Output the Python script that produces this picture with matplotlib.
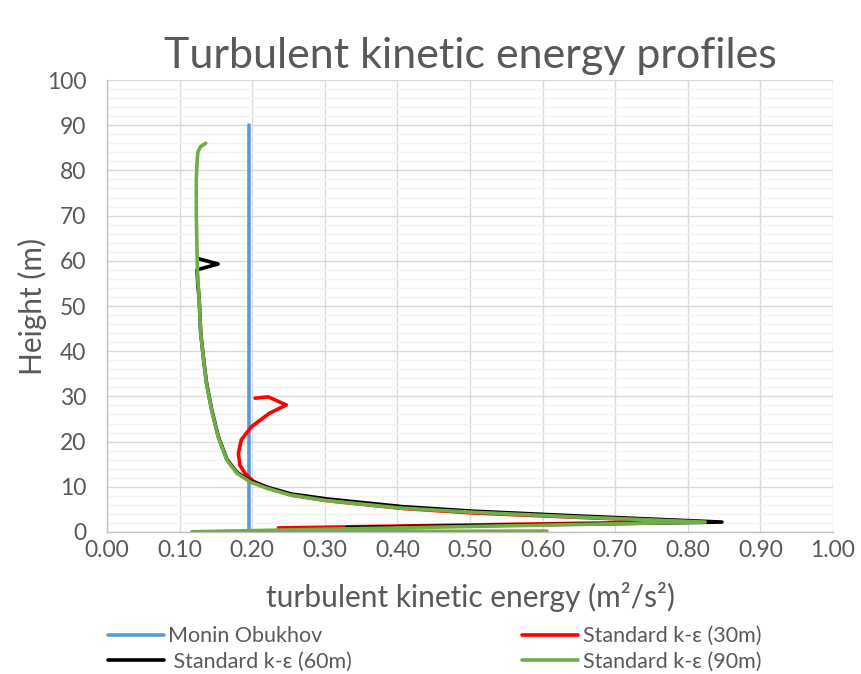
import matplotlib
matplotlib.use("Agg")
import matplotlib.pyplot as plt
from matplotlib.ticker import MultipleLocator, FormatStrFormatter

plt.rcParams['font.family'] = ['Lato', 'DejaVu Sans']

# ---- data ----
mo_x = [0.196, 0.196]
mo_y = [0.0, 90.0]

red_x = [0.236, 0.800, 0.655, 0.505, 0.408, 0.305, 0.256, 0.224, 0.201, 0.190, 0.183, 0.181, 0.185, 0.199, 0.224, 0.247, 0.222, 0.204]
red_y = [0.9, 2.3, 3.2, 4.2, 5.2, 6.9, 8.1, 9.6, 11.3, 13.0, 14.8, 17.4, 20.4, 23.3, 26.3, 28.1, 29.9, 29.6]

blk_x = [0.330, 0.847, 0.655, 0.505, 0.408, 0.304, 0.254, 0.221, 0.197, 0.179, 0.165, 0.153, 0.144, 0.137, 0.133, 0.129, 0.127, 0.125, 0.124, 0.153, 0.125]
blk_y = [1.0, 2.2, 3.5, 4.6, 5.6, 7.3, 8.4, 9.9, 11.3, 13.2, 16.1, 21.3, 27.2, 33.1, 38.3, 44.2, 51.5, 55.0, 58.0, 59.3, 60.5]

grn_x = [0.606, 0.117, 0.824, 0.650, 0.500, 0.404, 0.300, 0.252, 0.220, 0.197, 0.179, 0.165, 0.153, 0.144, 0.137, 0.133, 0.129, 0.127, 0.125, 0.124, 0.123, 0.123, 0.124, 0.125, 0.129, 0.136]
grn_y = [0.2, 0.05, 2.2, 3.3, 4.4, 5.3, 7.0, 8.2, 9.7, 11.1, 13.0, 15.9, 21.1, 27.0, 32.9, 38.1, 44.0, 51.3, 56.0, 62.0, 70.0, 78.0, 81.6, 84.0, 85.3, 86.0]

x_ticks = [0.0, 0.1, 0.2, 0.3, 0.4, 0.5, 0.6, 0.7, 0.8, 0.9, 1.0]
y_ticks = [0, 10, 20, 30, 40, 50, 60, 70, 80, 90, 100]

# ---- figure ----
fig = plt.figure(figsize=(8.61, 6.74), dpi=100)
ax = fig.add_axes([107/861, 1-532/674, (833-107)/861, (532-80)/674])

txt = '#595959'
lw = 2.6
kw = dict(lw=lw, solid_capstyle='round', solid_joinstyle='round')
ax.plot(mo_x, mo_y, color='#5B9BD5', label='Monin Obukhov', zorder=3, **kw)
ax.plot(red_x, red_y, color='#FF0000', label='Standard k-ε (30m)', zorder=4, **kw)
ax.plot(blk_x, blk_y, color='#000000', label=' Standard k-ε (60m)', zorder=5, **kw)
ax.plot(grn_x, grn_y, color='#70AD47', label='Standard k-ε (90m)', zorder=6, **kw)

ax.set_xlim(0, 1.0)
ax.set_ylim(0, 100)
ax.set_xticks(x_ticks)
ax.set_yticks(y_ticks)
ax.xaxis.set_major_formatter(FormatStrFormatter('%.2f'))
ax.yaxis.set_minor_locator(MultipleLocator(2))
ax.grid(which='major', color='#D9D9D9', lw=1.0, zorder=0)
ax.grid(which='minor', axis='y', color='#F2F2F2', lw=1.0, zorder=0)
ax.set_axisbelow(True)
for s in ['top', 'right']:
    ax.spines[s].set_visible(False)
for s in ['left', 'bottom']:
    ax.spines[s].set_color('#BFBFBF')
    ax.spines[s].set_linewidth(1.0)
ax.tick_params(which='both', length=0, labelsize=16.5, colors=txt)
ax.tick_params(axis='x', pad=6)
ax.tick_params(axis='y', pad=15)

ax.set_title('Turbulent kinetic energy profiles', fontsize=31, color=txt, pad=9)
ax.set_xlabel('turbulent kinetic energy (m²/s²)', fontsize=21.5, color=txt, labelpad=15)
ax.set_ylabel('Height (m)', fontsize=21.5, color=txt, labelpad=0)

handles, labels = ax.get_legend_handles_labels()
order = [0, 2, 1, 3]
leg = fig.legend([handles[i] for i in order], [labels[i] for i in order],
                 ncol=2, loc='upper left', bbox_to_anchor=(93/861, 1-611/674),
                 frameon=False, fontsize=15.5, handlelength=2.6, handletextpad=0.2,
                 columnspacing=7.9, labelspacing=0.25, labelcolor=txt,
                 borderpad=0.2)

fig.savefig('out.png', dpi=100)
